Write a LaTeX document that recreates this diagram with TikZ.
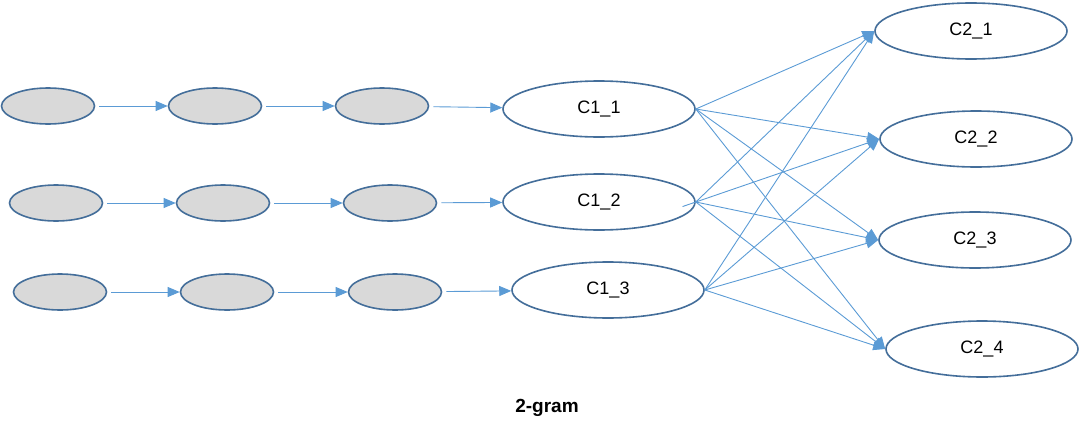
\documentclass[tikz,border=0pt]{standalone}
\usepackage{fontspec}
\setmainfont{Liberation Sans}
\usetikzlibrary{shapes.geometric, arrows.meta}
\definecolor{elEdge}{RGB}{ 68,110,154}
\definecolor{elFill}{RGB}{217,217,217}
\definecolor{arBlue}{RGB}{ 91,155,213}

\begin{document}
\begin{tikzpicture}[x=1pt, y=-1pt,
    tok/.style={ellipse, draw=elEdge, line width=1.6pt, fill=elFill,
                minimum width=93pt, minimum height=36pt, inner sep=0pt},
    cnode/.style={ellipse, draw=elEdge, line width=1.6pt, fill=white,
                  minimum width=192pt, minimum height=56pt, inner sep=0pt,
                  font=\fontsize{18}{20}\selectfont},
    link/.style={draw=arBlue, line width=0.9pt,
                 -{Triangle[length=12pt, width=10pt]}, shorten <=4pt}
  ]
  \useasboundingbox (0,0) rectangle (1080,442);

  % token chains
  \foreach \r/\y/\xa/\xb/\xc in {1/106/48/215/382, 2/203/56/223/390, 3/292/60/227/395} {
    \node[tok] (t\r1) at (\xa,\y) {};
    \node[tok] (t\r2) at (\xb,\y) {};
    \node[tok] (t\r3) at (\xc,\y) {};
  }

  % first layer
  \node[cnode] (c11) at (599,109) {C1\_1};
  \node[cnode] (c12) at (599,202) {C1\_2};
  \node[cnode] (c13) at (608,290) {C1\_3};

  % second layer
  \node[cnode] (c21) at (971, 31) {C2\_1};
  \node[cnode] (c22) at (976,139) {C2\_2};
  \node[cnode] (c23) at (975,240) {C2\_3};
  \node[cnode] (c24) at (982,349) {C2\_4};

  \foreach \r in {1,2,3} {
    \draw[link] (t\r1) -- (t\r2);
    \draw[link] (t\r2) -- (t\r3);
    \draw[link] (t\r3) -- (c1\r);
  }

  \foreach \i in {1,2,3}
    \foreach \j in {1,...,4} {
      \def\bk{0pt}
      \ifnum\i\j=22 \def\bk{-14pt}\fi
      \draw[link, shorten <=\bk] (c1\i.east) -- (c2\j.west);
    }

  \node[font=\bfseries\fontsize{19}{22}\selectfont] (cap) at (547,408) {2-gram};
\end{tikzpicture}
\end{document}
